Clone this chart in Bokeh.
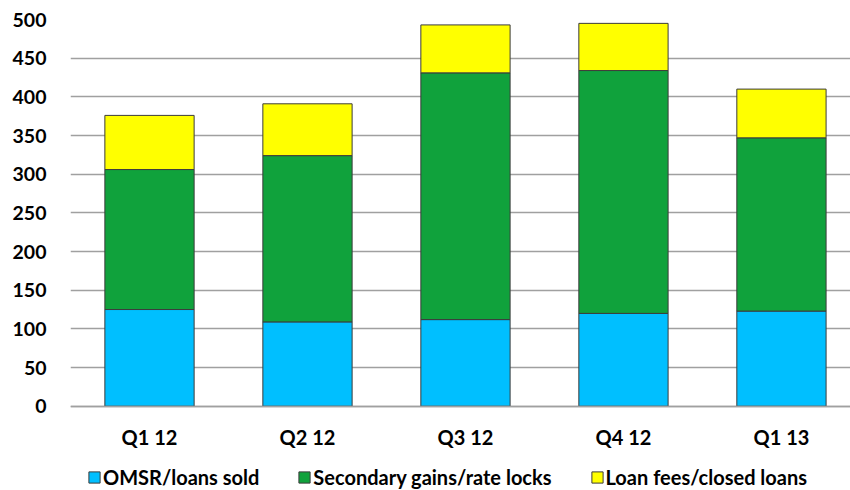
from bokeh.plotting import figure
from bokeh.models import Range1d, Legend, LegendItem, ColumnDataSource
from bokeh.embed import file_html
from bokeh.resources import INLINE

categories = ["Q1 12", "Q2 12", "Q3 12", "Q4 12", "Q1 13"]
omsr = [125, 109, 112, 120, 123]
secondary = [181, 215, 319, 314, 224]
loan_fees = [70, 67, 62, 61, 63]
series_names = ["OMSR/loans sold", "Secondary gains/rate locks", "Loan fees/closed loans"]
y_ticks = list(range(0, 501, 50))
colors = ["#00BFFF", "#10A23C", "#FFFF00"]

FONT = "Lato"
x = list(range(len(categories)))
source = ColumnDataSource(dict(x=x, omsr=omsr, secondary=secondary, fees=loan_fees))

# frame extends below zero so the category labels and legend sit inside it
p = figure(width=850, height=490, x_range=Range1d(-0.5, 4.437), y_range=Range1d(-109, 500),
           output_backend="svg", toolbar_location=None,
           min_border_left=70, min_border_right=0, min_border_top=19, min_border_bottom=0)

rs = p.vbar_stack(["omsr", "secondary", "fees"], x="x", width=0.565, source=source,
                  fill_color=colors, line_color="#3c3c3c", line_width=1)

p.outline_line_color = None
p.xgrid.grid_line_color = None
p.ygrid.grid_line_color = "#A0A0A0"
p.ygrid.grid_line_width = 1.5
p.ygrid.ticker = y_ticks

p.yaxis.ticker = y_ticks
p.yaxis.axis_line_color = None
p.yaxis.major_tick_line_color = None
p.yaxis.minor_tick_line_color = None
p.yaxis.major_label_standoff = 18
p.yaxis.major_label_text_font = FONT
p.yaxis.major_label_text_font_style = "bold"
p.yaxis.major_label_text_font_size = "19.5px"
p.yaxis.major_label_text_color = "black"

p.xaxis.fixed_location = 0
p.xaxis.ticker = x
p.xaxis.major_label_overrides = {i: c for i, c in zip(x, categories)}
p.xaxis.axis_line_color = "#A0A0A0"
p.xaxis.axis_line_width = 1.5
p.xaxis.major_tick_line_color = None
p.xaxis.minor_tick_line_color = None
p.xaxis.major_label_standoff = 13
p.xaxis.major_label_text_font = FONT
p.xaxis.major_label_text_font_style = "bold"
p.xaxis.major_label_text_font_size = "20px"
p.xaxis.major_label_text_color = "black"

legend = Legend(items=[LegendItem(label=n, renderers=[r]) for n, r in zip(series_names, rs)],
                orientation="horizontal", location=(17, 1), padding=0, margin=0, spacing=38,
                glyph_width=14, glyph_height=14, label_standoff=2, label_height=20,
                border_line_color=None, background_fill_alpha=0,
                label_text_font=FONT, label_text_font_style="bold",
                label_text_font_size="20px", label_text_color="black")
p.add_layout(legend)

open("out.html", "w").write(file_html(p, INLINE))
